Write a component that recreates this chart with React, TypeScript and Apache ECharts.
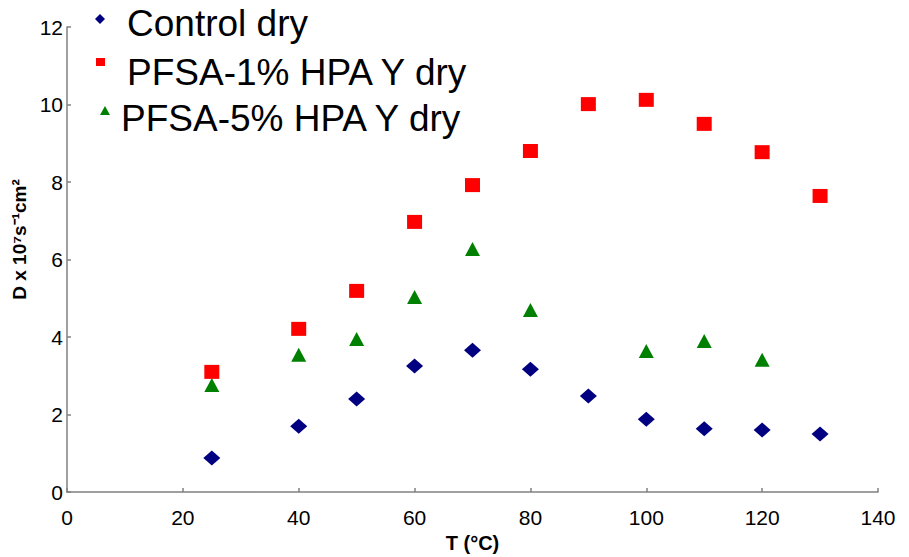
import React, { useEffect, useRef } from "react";
import * as echarts from "echarts";

const temps = [25, 40, 50, 60, 70, 80, 90, 100, 110, 120, 130];
const controlDry = [0.88, 1.7, 2.4, 3.25, 3.66, 3.17, 2.48, 1.88, 1.63, 1.6, 1.5];
const pfsa1Dry = [3.1, 4.21, 5.19, 6.97, 7.92, 8.8, 10.01, 10.12, 9.5, 8.77, 7.64];
const pfsa5Temps = [25, 40, 50, 60, 70, 80, 100, 110, 120];
const pfsa5Dry = [2.76, 3.54, 3.95, 5.03, 6.27, 4.7, 3.64, 3.9, 3.41];
const seriesNames = ["Control dry", "PFSA-1% HPA Y dry", "PFSA-5% HPA Y dry"];

const FONT = "'Liberation Sans', Arial, sans-serif";

export default function App() {
  const ref = useRef<HTMLDivElement>(null);
  useEffect(() => {
    if (!ref.current) return;
    const chart = echarts.init(ref.current, null, { renderer: "svg" });
    const axisLine = { show: true, lineStyle: { color: "#808080", width: 1.5 } };
    chart.setOption({
      animation: false,
      backgroundColor: "#ffffff",
      textStyle: { fontFamily: FONT },
      grid: { left: 67, right: 31, top: 27, bottom: 65, containLabel: false, outerBoundsMode: "none" },
      xAxis: {
        type: "value",
        min: 0,
        max: 140,
        interval: 20,
        name: "T (°C)",
        nameLocation: "middle",
        nameGap: 41,
        nameTextStyle: { fontFamily: FONT, fontSize: 20, fontWeight: "bold", color: "#000" },
        axisLine,
        axisTick: { show: true, inside: true, length: 4, lineStyle: { color: "#808080", width: 1.5 } },
        axisLabel: { fontFamily: FONT, fontSize: 21, color: "#000", margin: 15 },
        splitLine: { show: false },
      },
      yAxis: {
        type: "value",
        min: 0,
        max: 12,
        interval: 2,
        name: "D x 10⁷s⁻¹cm²",
        nameLocation: "middle",
        nameGap: 37,
        nameRotate: 90,
        nameTextStyle: { fontFamily: FONT, fontSize: 19, fontWeight: "bold", color: "#000", padding: [0, 0, 0, 40] },
        axisLine,
        axisTick: { show: true, inside: true, length: 4, lineStyle: { color: "#808080", width: 1.5 } },
        axisLabel: { fontFamily: FONT, fontSize: 21, color: "#000", margin: 4 },
        splitLine: { show: false },
      },
      series: [
        {
          name: seriesNames[0],
          type: "scatter",
          symbol: "diamond",
          symbolSize: [17, 15],
          itemStyle: { color: "#000080", opacity: 1 },
          data: temps.map((t, i) => [t, controlDry[i]]),
        },
        {
          name: seriesNames[1],
          type: "scatter",
          symbol: "rect",
          symbolSize: [15, 14],
          itemStyle: { color: "#FF0000", opacity: 1 },
          data: temps.map((t, i) => [t, pfsa1Dry[i]]),
        },
        {
          name: seriesNames[2],
          type: "scatter",
          symbol: "triangle",
          symbolSize: [15, 14],
          itemStyle: { color: "#008000", opacity: 1 },
          data: pfsa5Temps.map((t, i) => [t, pfsa5Dry[i]]),
        },
      ],
      graphic: [
        { type: "polygon", shape: { points: [[100, 14], [105, 19], [100, 24], [95, 19]] }, style: { fill: "#000080" } },
        { type: "text", left: 127, top: 5, style: { text: seriesNames[0], font: `37px ${FONT}`, fill: "#000" } },
        { type: "rect", shape: { x: 96, y: 58, width: 9, height: 8 }, style: { fill: "#FF0000" } },
        { type: "text", left: 127, top: 54, style: { text: seriesNames[1], font: `37px ${FONT}`, fill: "#000" } },
        { type: "polygon", shape: { points: [[105, 106], [110, 115], [100, 115]] }, style: { fill: "#008000" } },
        { type: "text", left: 121, top: 100, style: { text: seriesNames[2], font: `37px ${FONT}`, fill: "#000" } },
      ],
    });
    return () => chart.dispose();
  }, []);
  return <div ref={ref} style={{ width: 909, height: 557, position: "absolute", left: 0, top: 0 }} />;
}
